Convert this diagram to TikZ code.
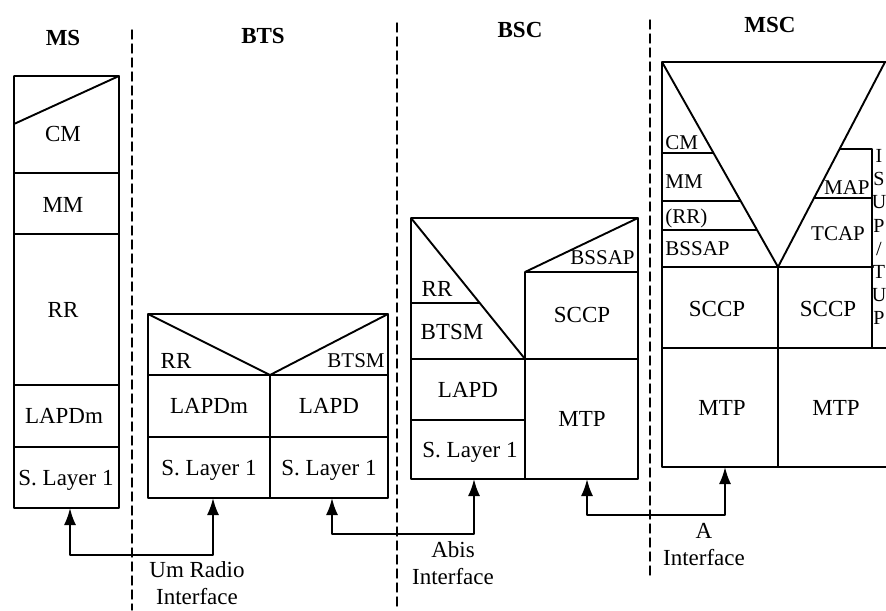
\documentclass[tikz,border=0pt]{standalone}
\usepackage{fontspec}
\setmainfont{Liberation Serif}
\usetikzlibrary{arrows.meta}
\begin{document}
\begin{tikzpicture}[x=0.5pt,y=-0.5pt,line join=round,line cap=round,
	stack/.style={line width=0.95pt},
	border/.style={line width=0.7pt,dash pattern=on 4.5pt off 2.5pt},
	head/.style={inner sep=0pt,font=\fontsize{11.5}{13}\selectfont\bfseries},
	layer/.style={inner sep=0pt,text depth=0pt,font=\fontsize{11.5}{13}\selectfont},
	sub/.style={inner sep=0pt,text depth=0pt,font=\fontsize{10.5}{12}\selectfont},
	link/.style={line width=1pt,{Latex[length=8.5pt,width=6pt]}-{Latex[length=8.5pt,width=6pt]}},
	iface/.style={align=center,inner sep=0pt,font=\fontsize{11.5}{13.5}\selectfont}]
	\useasboundingbox (0,0) rectangle (886,610);
	% separators between the entities
	\draw[border] (132,30)--(132,610) (397,23)--(397,610) (650,20)--(650,575);
	\node[head] (ms) at (63,38) {MS};
	\node[head] (bts) at (263,36) {BTS};
	\node[head] (bsc) at (520,30) {BSC};
	\node[head] (msc) at (770,25) {MSC};
	% MS
	\draw[stack] (14,76) rectangle (119,508)
	(14,124)--(119,76) (14,173)--(119,173) (14,234)--(119,234)
	(14,385)--(119,385) (14,447)--(119,447);
	\node[layer] (ms-cm) at (63,134) {CM};
	\node[layer] (ms-mm) at (63,205) {MM};
	\node[layer] (ms-rr) at (63,310) {RR};
	\node[layer] (ms-lapdm) at (64,416) {LAPDm};
	\node[layer] (ms-l1) at (66,478) {S. Layer 1};
	% BTS
	\draw[stack] (148,314) rectangle (388,498)
	(148,314)--(270,375)--(388,314) (148,375)--(388,375) (148,437)--(388,437)
	(270,375)--(270,498);
	\node[layer] (bts-rr) at (176,361) {RR};
	\node[sub,anchor=east] (bts-btsm) at (385,361) {BTSM};
	\node[layer] (bts-lapdm) at (209,406) {LAPDm};
	\node[layer] (bts-lapd) at (329,406) {LAPD};
	\node[layer] (bts-l1a) at (209,468) {S. Layer 1};
	\node[layer] (bts-l1b) at (329,468) {S. Layer 1};
	% BSC
	\draw[stack] (411,218) rectangle (638,479)
	(411,218)--(525,359) (411,303)--(480,303) (411,359)--(638,359)
	(411,420)--(525,420) (525,272)--(525,479) (525,272)--(638,272)
	(525,272)--(638,218);
	\node[layer] (bsc-rr) at (437,289) {RR};
	\node[layer] (bsc-btsm) at (452,332) {BTSM};
	\node[layer] (bsc-lapd) at (468,390) {LAPD};
	\node[layer] (bsc-l1) at (470,450) {S. Layer 1};
	\node[sub,anchor=east] (bsc-bssap) at (635,258) {BSSAP};
	\node[layer] (bsc-sccp) at (582,315) {SCCP};
	\node[layer] (bsc-mtp) at (582,419) {MTP};
	% MSC
	\draw[stack] (886,62)--(662,62)--(662,467)--(886,467)
	(662,62)--(778,267)--(885,62)
	(662,153)--(713,153) (662,201)--(741,201) (662,230)--(757,230)
	(662,267)--(872,267) (840,149)--(872,149)--(872,348) (814,198)--(872,198)
	(662,348)--(886,348) (778,267)--(778,467);
	\node[sub,anchor=west] (msc-cm) at (665,143) {CM};
	\node[sub,anchor=west] (msc-mm) at (665,182) {MM};
	\node[sub,anchor=west] (msc-rr) at (665,216) {(RR)};
	\node[sub,anchor=west] (msc-bssap) at (665,249) {BSSAP};
	\node[sub,anchor=east] (msc-map) at (870,188) {MAP};
	\node[sub] (msc-tcap) at (838,234) {TCAP};
	\node[layer] (msc-sccpa) at (717,309) {SCCP};
	\node[layer] (msc-sccpb) at (828,309) {SCCP};
	\node[layer] (msc-mtpa) at (722,408) {MTP};
	\node[layer] (msc-mtpb) at (836,408) {MTP};
	\node[inner sep=0pt,align=center,anchor=north,font=\fontsize{10}{11.6}\selectfont] (msc-isup) at (879,149) {I\\S\\U\\P\\/\\T\\U\\P};
	% interfaces
	\coordinate (ms-foot) at (70,508);
	\coordinate (bts-foota) at (213,498);
	\coordinate (bts-footb) at (332,498);
	\coordinate (bsc-foota) at (474,479);
	\coordinate (bsc-footb) at (587,479);
	\coordinate (msc-foot) at (725,467);
	\draw[link] (ms-foot)--++(0,47)-|(bts-foota);
	\draw[link] (bts-footb)--++(0,36)-|(bsc-foota);
	\draw[link] (bsc-footb)--++(0,36)-|(msc-foot);
	\node[iface] (um) at (197,583) {Um Radio\\Interface};
	\node[iface] (abis) at (453,563) {Abis\\Interface};
	\node[iface] (a) at (704,545) {A\\Interface};
\end{tikzpicture}
\end{document}
